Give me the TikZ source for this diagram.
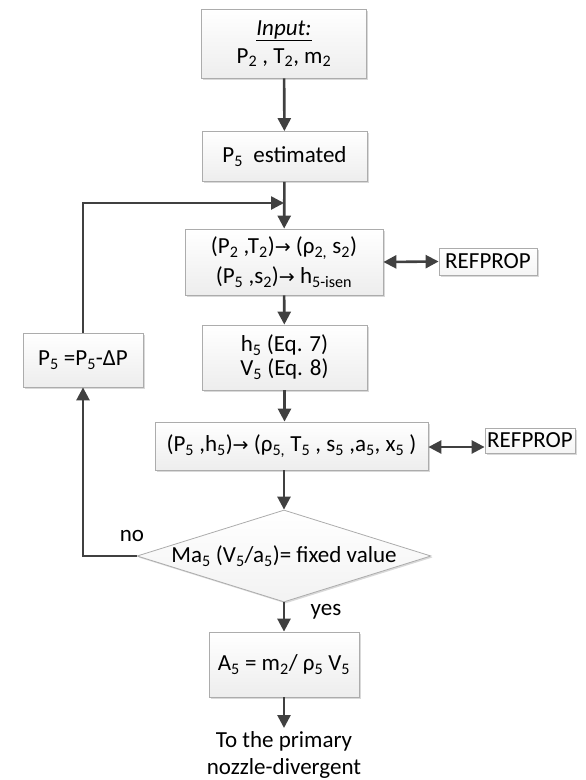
\documentclass[tikz,border=0pt]{standalone}
\usepackage{fontspec}
\setmainfont{Carlito}
\newfontfamily\arrowfont{DejaVu Sans}
\usetikzlibrary{arrows.meta,shapes.geometric,shadows}
\newcommand{\lo}[1]{\textsubscript{#1}}
\newcommand{\ra}{{\arrowfont\fontsize{19}{19}\selectfont →}}
\definecolor{linegray}{HTML}{404040}
\tikzset{
  stepbox/.style = {
    draw = gray!65, line width = 0.8pt,
    top color = white, bottom color = gray!14,
    drop shadow = {opacity = 0.3, shadow xshift = 1.5pt, shadow yshift = -1.5pt},
    align = center, inner sep = 2pt,
    font = \fontsize{23}{28}\selectfont
  },
  refbox/.style = {
    stepbox, top color = white, bottom color = gray!8
  },
  decision/.style = {
    stepbox, diamond, aspect = 3.2, inner sep = 0pt,
    top color = white, bottom color = gray!10
  },
  flow/.style = {
    draw = linegray, line width = 2.6pt,
    -{Triangle[length = 13pt, width = 13pt]}
  },
  flowboth/.style = {
    flow, {Triangle[length = 13pt, width = 13pt]}-{Triangle[length = 13pt, width = 13pt]}
  },
  lbl/.style = {font = \fontsize{23}{27}\selectfont}
}

\begin{document}
\begin{tikzpicture}[x=1pt, y=-1pt]
  \useasboundingbox (0,0) rectangle (586,780);

  \node[stepbox, minimum width = 165pt, minimum height = 69pt] (input) at (284,43.5)
       {\underline{\textit{Input:}}\\ P\lo{2} , T\lo{2}, m\lo{2}};
  \node[stepbox, minimum width = 165pt, minimum height = 50pt] (est) at (284.5,156.5)
       {P\lo{5}\ \ estimated};
  \node[stepbox, minimum width = 198pt, minimum height = 66pt] (props) at (284,262)
       {(P\lo{2} ,T\lo{2})\ra\ (ρ\lo{2,} s\lo{2})\\[2pt] (P\lo{5} ,s\lo{2})\ra\ h\lo{5-isen}};
  \node[refbox, minimum width = 98pt, minimum height = 27pt] (refa) at (488,261.5) {REFPROP};
  \node[stepbox, minimum width = 165pt, minimum height = 65pt] (enth) at (284.5,357.5)
       {h\lo{5} (Eq. 7)\\[-4pt] V\lo{5} (Eq. 8)};
  \node[stepbox, minimum width = 120pt, minimum height = 54pt] (press) at (83,360)
       {P\lo{5} =P\lo{5}-ΔP};
  \node[stepbox, minimum width = 273pt, minimum height = 48pt] (state) at (291.5,446)
       {(P\lo{5} ,h\lo{5})\ra\ (ρ\lo{5,} T\lo{5} , s\lo{5} ,a\lo{5}, x\lo{5} )};
  \node[refbox, minimum width = 90pt, minimum height = 25pt] (refb) at (530,440.5) {REFPROP};
  \node[decision, minimum width = 294pt, minimum height = 92pt] (mach) at (284,556)
       {Ma\lo{5} (V\lo{5}/a\lo{5})= fixed value};
  \node[stepbox, minimum width = 150pt, minimum height = 65pt] (area) at (284,664.5)
       {A\lo{5} = m\lo{2}/ ρ\lo{5} V\lo{5}};
  \node[lbl, align = center] (out) at (284,755) {To the primary\\ nozzle-divergent};
  \node[lbl] (no) at (132,536) {no};
  \node[lbl] (yes) at (326,612) {yes};
  \coordinate (join) at (284,203);

  \draw[flow] (input) -- (est);
  \draw[flow] (est) -- (props);
  \draw[flow] (press.north) |- (join);
  \draw[flowboth] (props.east) -- (refa.west);
  \draw[flow] (props) -- (enth);
  \draw[flow] (enth.south) -- (enth.south |- state.north);
  \draw[flowboth] (state.east) ++(0,1) -- (refb.west |- 0,447);
  \draw[flow] (mach.north |- state.south) -- (mach.north);
  \draw[flow] (mach.west) -| (press.south);
  \draw[flow] (mach.south) -- (area.north);
  \draw[flow] (area.south) -- (out.north);
\end{tikzpicture}
\end{document}
